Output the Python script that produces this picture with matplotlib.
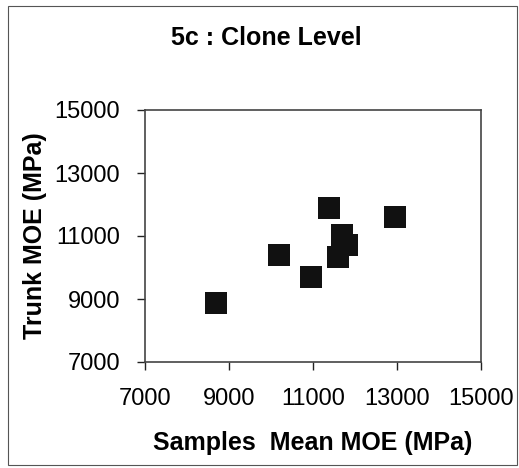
import matplotlib
matplotlib.use("Agg")
import matplotlib.pyplot as plt
from matplotlib.patches import Rectangle

samples_mean_moe = [8690, 10180, 10960, 11390, 11700, 11820, 11600, 12960]
trunk_moe = [8870, 10410, 9710, 11880, 11040, 10700, 10340, 11610]
ticks = [7000, 9000, 11000, 13000, 15000]

plt.rcParams['font.family'] = ['Liberation Sans', 'DejaVu Sans']

fig = plt.figure(figsize=(5.19, 4.68), dpi=100)
fig.patches.append(Rectangle((8/519, 3/468), 509/519, 459/468, transform=fig.transFigure,
                             fill=False, edgecolor='#555555', linewidth=0.8))
ax = fig.add_axes([145/519, 1-362/468, 336/519, 252/468])
ax.scatter(samples_mean_moe, trunk_moe, marker='s', s=240, color='#111111', linewidths=0)
ax.set_xlim(7000, 15000)
ax.set_ylim(7000, 15000)
ax.set_xticks(ticks)
ax.set_yticks(ticks)
ax.tick_params(axis='both', direction='out', length=6, width=1, color='#222222', labelsize=17)
ax.tick_params(axis='x', pad=13)
ax.tick_params(axis='y', pad=12)
for s in ax.spines.values():
    s.set_color('#444444')
    s.set_linewidth(1.2)
ax.set_xlabel('Samples  Mean MOE (MPa)', fontsize=18, fontweight='bold', labelpad=15)
ax.set_ylabel('Trunk MOE (MPa)', fontsize=18, fontweight='bold', labelpad=5)
fig.text(266/519, 1-38/468, '5c : Clone Level', ha='center', va='center', fontsize=18, fontweight='bold')
fig.savefig('out.png', dpi=100)
